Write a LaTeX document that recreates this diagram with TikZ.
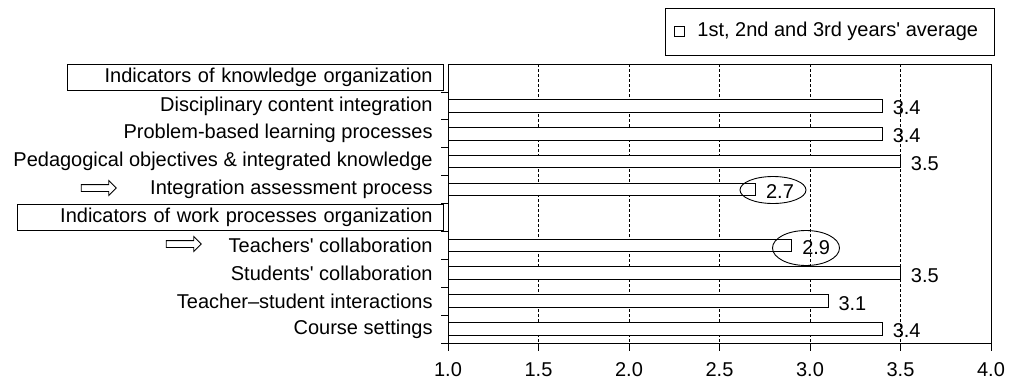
\documentclass[tikz,border=0pt]{standalone}
\usepackage{fontspec}
\setmainfont{Liberation Sans}
\usetikzlibrary{positioning,shapes.arrows,shapes.geometric}

\begin{document}
\begin{tikzpicture}[x=1pt,y=-1pt,line width=0.8pt,
	font=\fontsize{20}{22}\selectfont,
	lbl/.style={anchor=east,inner sep=0pt},
	val/.style={anchor=west,inner sep=0pt},
	hdr/.style={draw,anchor=east,align=right,minimum height=26pt,inner ysep=0pt,inner xsep=11pt},
	bar/.style={draw,fill=white,line width=1pt},
	gridline/.style={dash pattern=on 3pt off 2pt,line width=0.7pt},
	hollow/.style={draw,single arrow,single arrow head extend=4pt,minimum height=35pt,inner sep=3pt,line width=0.8pt},
	ring/.style={draw,ellipse,inner sep=0pt,line width=0.9pt}]
	\useasboundingbox (0,0) rectangle (1013,383);
	
	% legend
	\node[draw,minimum width=329pt,minimum height=47pt,anchor=north west] (legend) at (665,8) {};
	\node[draw,minimum size=10pt,inner sep=0pt] (key) at (679,31) {};
	\node[val] (keytext) at (697,31) {1st, 2nd and 3rd years\textquotesingle\ average};
	
	% plot frame and grid
	\draw (448,64) rectangle (991,343);
	\foreach \v in {1.5,2.0,2.5,3.0,3.5}
		\draw[gridline] ({448+(\v-1)*181},64) -- ({448+(\v-1)*181},343);
	\foreach \v in {1.0,1.5,2.0,2.5,3.0,3.5,4.0}{
		\draw ({448+(\v-1)*181},343) -- ({448+(\v-1)*181},351);
		\node (t\v) at ({448+(\v-1)*181},370) {\v};
	}
	\foreach \k in {1,...,10}
		\draw (441,{64+27.9*\k}) -- (448,{64+27.9*\k});
	
	% group headers
	\node[hdr,text width=354pt] (know) at (444,77) {Indicators of knowledge organization};
	\node[hdr,text width=404pt] (work) at (444,217.4) {Indicators of work processes organization};
	
	% categories
	\foreach \r/\t in {2/Disciplinary content integration,
		3/Problem-based learning processes,
		4/Pedagogical objectives \& integrated knowledge,
		5/Integration assessment process,
		7/Teachers\textquotesingle\ collaboration,
		8/Students\textquotesingle\ collaboration,
		9/Teacher--student interactions,
		10/Course settings}
		\node[lbl] (c\r) at (433,{64+27.9*(\r-0.5)}) {\t};
	
	% bars and values
	\foreach \r/\v in {2/3.4,3/3.4,4/3.5,5/2.7,7/2.9,8/3.5,9/3.1,10/3.4}{
		\pgfmathsetmacro\xe{448+(\v-1)*181}
		\pgfmathsetmacro\yc{64+27.9*(\r-0.5)}
		\draw[bar] (448,{\yc-6.3}) rectangle (\xe,{\yc+6.3});
		\node[val] (v\r) at ({\xe+10},{\yc+2}) {\v};
	}
	
	% highlighted items
	\node[hollow] (arrA) at (97,188) {};
	\node[hollow] (arrB) at (182,244) {};
	\node[ring,minimum width=66pt,minimum height=27pt] (ringA) at (773,190) {};
	\node[ring,minimum width=67pt,minimum height=35pt] (ringB) at (806,248) {};
\end{tikzpicture}
\end{document}
